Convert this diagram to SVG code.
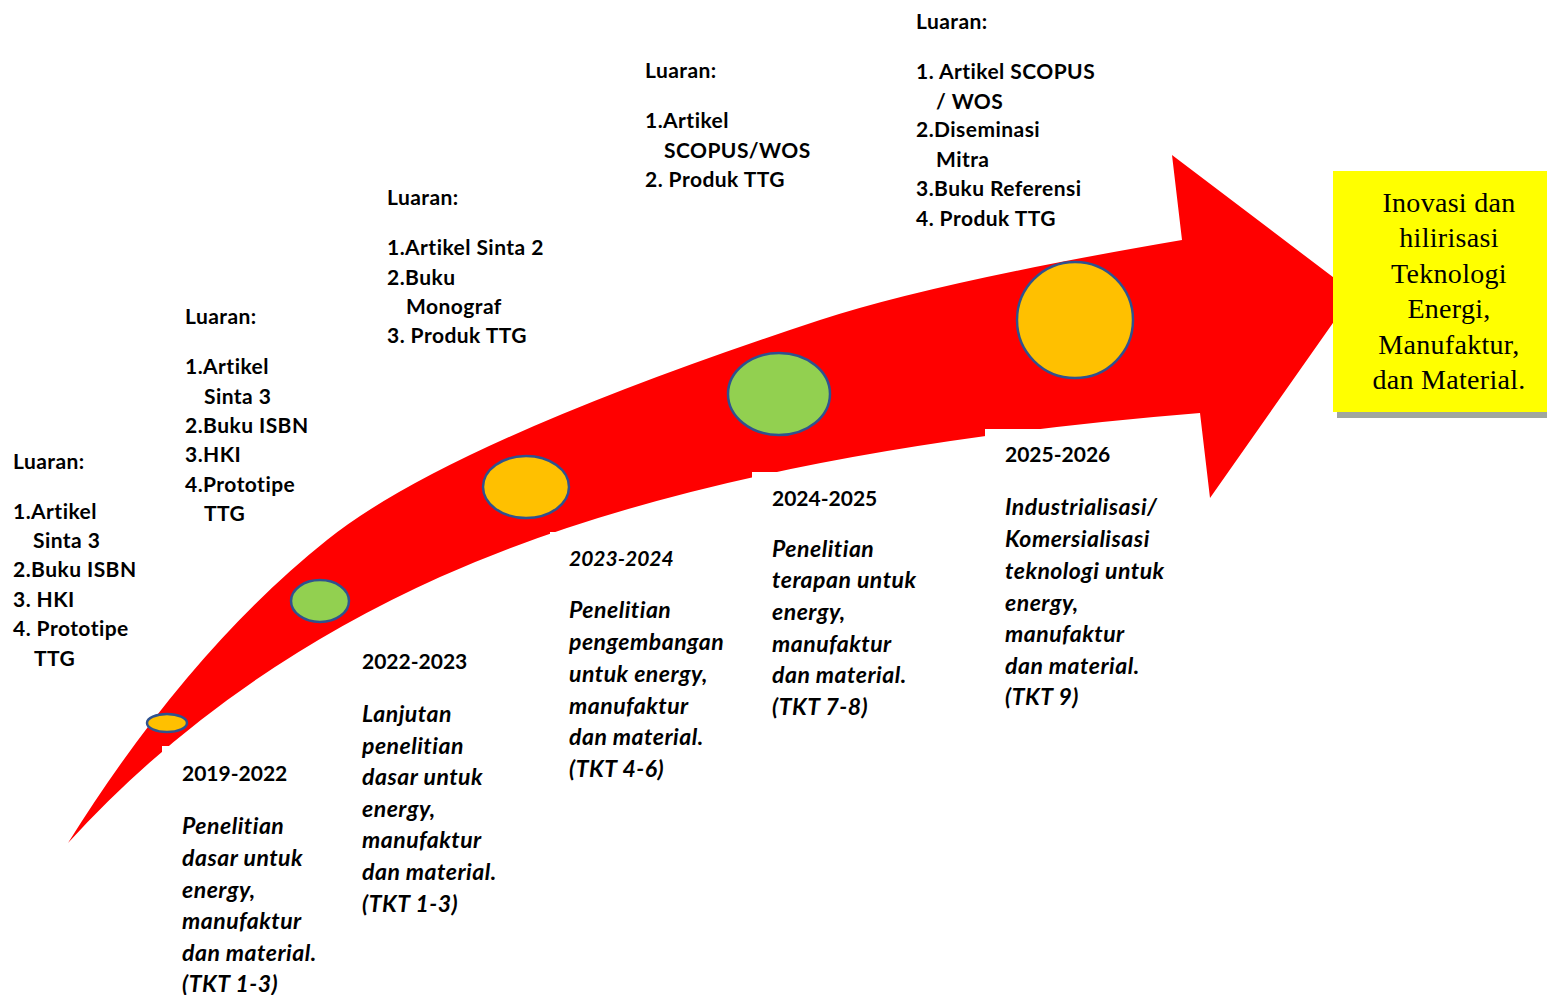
<svg xmlns="http://www.w3.org/2000/svg" width="1547" height="995" viewBox="0 0 1547 995">
<style>
.b{font-family:Lato,"Open Sans","Liberation Sans",sans-serif;font-weight:bold;font-size:21px;letter-spacing:0.45px;fill:#000}
.bi{font-family:Lato,"Open Sans","Liberation Sans",sans-serif;font-weight:bold;font-style:italic;font-size:23px;letter-spacing:0.5px;fill:#000}
.yr{font-size:21px;letter-spacing:0}
.ser{font-family:"Liberation Serif","DejaVu Serif",serif;font-size:28px;letter-spacing:0.3px;fill:#000;text-anchor:middle}
.mask{fill:#fff}
.dot{stroke:#2f528f;stroke-width:2.5}
.y{fill:#ffc000}
.g{fill:#92d050}
</style>
<rect width="1547" height="995" fill="#fff"/>
<g id="connectors">
<path id="arrow" d="M68,843 Q188,651 327,540 Q449,442 820,320 Q936,282 1182,240 L1172,155 L1354,293 L1210,498 L1200,413 Q719,452 440,577 Q220,676 68,843 Z" fill="#ff0000"/>
</g>
<g id="m2019">
<rect class="mask" x="162" y="746" width="170" height="249"/>
<ellipse class="dot y" cx="167" cy="723" rx="20" ry="9"/>
<text class="b yr" x="182" y="781">2019-2022</text>
<text class="bi" x="182" y="834">Penelitian</text>
<text class="bi" x="182" y="866">dasar untuk</text>
<text class="bi" x="182" y="898">energy,</text>
<text class="bi" x="182" y="929">manufaktur</text>
<text class="bi" x="182" y="961">dan material.</text>
<text class="bi" x="182" y="992">(TKT 1-3)</text>
</g>
<g id="m2022">
<ellipse class="dot g" cx="320" cy="601" rx="29" ry="21"/>
<text class="b yr" x="362" y="669">2022-2023</text>
<text class="bi" x="362" y="722">Lanjutan</text>
<text class="bi" x="362" y="754">penelitian</text>
<text class="bi" x="362" y="785">dasar untuk</text>
<text class="bi" x="362" y="817">energy,</text>
<text class="bi" x="362" y="848">manufaktur</text>
<text class="bi" x="362" y="880">dan material.</text>
<text class="bi" x="362" y="912">(TKT 1-3)</text>
</g>
<g id="m2023">
<rect class="mask" x="550" y="532" width="190" height="260"/>
<ellipse class="dot y" cx="526" cy="487" rx="43" ry="31"/>
<text class="bi yr" x="569" y="566">2023-2024</text>
<text class="bi" x="569" y="618">Penelitian</text>
<text class="bi" x="569" y="650">pengembangan</text>
<text class="bi" x="569" y="682">untuk energy,</text>
<text class="bi" x="569" y="714">manufaktur</text>
<text class="bi" x="569" y="745">dan material.</text>
<text class="bi" x="569" y="777">(TKT 4-6)</text>
</g>
<g id="m2024">
<rect class="mask" x="752" y="472" width="200" height="260"/>
<ellipse class="dot g" cx="779" cy="394" rx="51" ry="41"/>
<text class="b yr" x="772" y="506">2024-2025</text>
<text class="bi" x="772" y="557">Penelitian</text>
<text class="bi" x="772" y="588">terapan untuk</text>
<text class="bi" x="772" y="620">energy,</text>
<text class="bi" x="772" y="652">manufaktur</text>
<text class="bi" x="772" y="683">dan material.</text>
<text class="bi" x="772" y="715">(TKT 7-8)</text>
</g>
<g id="m2025">
<rect class="mask" x="985" y="429" width="195" height="290"/>
<circle class="dot y" cx="1075" cy="320" r="58"/>
<text class="b yr" x="1005" y="462">2025-2026</text>
<text class="bi" x="1005" y="515">Industrialisasi/</text>
<text class="bi" x="1005" y="547">Komersialisasi</text>
<text class="bi" x="1005" y="579">teknologi untuk</text>
<text class="bi" x="1005" y="611">energy,</text>
<text class="bi" x="1005" y="642">manufaktur</text>
<text class="bi" x="1005" y="674">dan material.</text>
<text class="bi" x="1005" y="705">(TKT 9)</text>
</g>
<g id="luaran1">
<text class="b" x="13" y="469">Luaran:</text>
<text class="b" x="13" y="519">1.Artikel</text>
<text class="b" x="33" y="548">Sinta 3</text>
<text class="b" x="13" y="577">2.Buku ISBN</text>
<text class="b" x="13" y="607">3. HKI</text>
<text class="b" x="13" y="636">4. Prototipe</text>
<text class="b" x="34" y="666">TTG</text>
</g>
<g id="luaran2">
<text class="b" x="185" y="324">Luaran:</text>
<text class="b" x="185" y="374">1.Artikel</text>
<text class="b" x="204" y="404">Sinta 3</text>
<text class="b" x="185" y="433">2.Buku ISBN</text>
<text class="b" x="185" y="462">3.HKI</text>
<text class="b" x="185" y="492">4.Prototipe</text>
<text class="b" x="204" y="521">TTG</text>
</g>
<g id="luaran3">
<text class="b" x="387" y="205">Luaran:</text>
<text class="b" x="387" y="255">1.Artikel Sinta 2</text>
<text class="b" x="387" y="285">2.Buku</text>
<text class="b" x="406" y="314">Monograf</text>
<text class="b" x="387" y="343">3. Produk TTG</text>
</g>
<g id="luaran4">
<text class="b" x="645" y="78">Luaran:</text>
<text class="b" x="645" y="128">1.Artikel</text>
<text class="b" x="664" y="158">SCOPUS/WOS</text>
<text class="b" x="645" y="187">2. Produk TTG</text>
</g>
<g id="luaran5">
<text class="b" x="916" y="29">Luaran:</text>
<text class="b" x="916" y="79">1. Artikel SCOPUS</text>
<text class="b" x="936" y="109">/ WOS</text>
<text class="b" x="916" y="137">2.Diseminasi</text>
<text class="b" x="936" y="167">Mitra</text>
<text class="b" x="916" y="196">3.Buku Referensi</text>
<text class="b" x="916" y="226">4. Produk TTG</text>
</g>
<g id="goal">
<rect x="1337" y="176" width="214" height="242" fill="#a0a69f"/>
<rect x="1333" y="171" width="214" height="241" fill="#ffff00"/>
<text class="ser" x="1449" y="212">Inovasi dan</text>
<text class="ser" x="1449" y="247">hilirisasi</text>
<text class="ser" x="1449" y="283">Teknologi</text>
<text class="ser" x="1449" y="318">Energi,</text>
<text class="ser" x="1449" y="354">Manufaktur,</text>
<text class="ser" x="1449" y="389">dan Material.</text>
</g>
</svg>
